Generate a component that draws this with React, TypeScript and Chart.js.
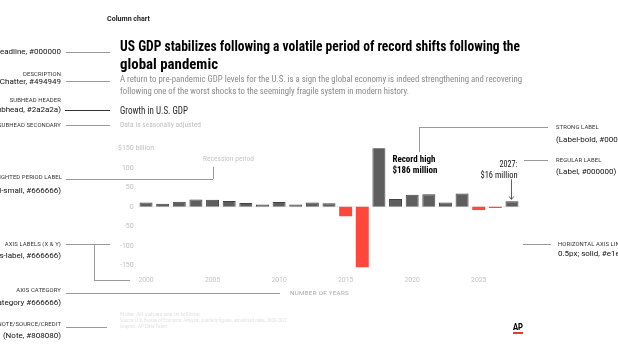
import React, { useEffect, useLayoutEffect, useRef } from "react";
import { Chart, registerables } from "chart.js";

Chart.register(...registerables);

// ---------- data ----------
const xTickLabels = [
  "2000", "", "", "", "2005", "", "", "", "2010", "", "", "",
  "2015", "", "", "", "2020", "", "", "", "2025", "", "",
];
const growth = [11, 8, 13, 19, 18, 15, 10, 6, 12, 6, 11, 9, -24, -155, 165, 20, 31, 32, 11, 34, -8, -3, 14];
const yTicks = [150, 100, 50, 0, -50, -100, -150];
const yMin = -160;
const yMax = 150;
const yTopPrefix = "$";
const yTopSuffix = " billion";
const recordLabel = ["Record high", "$186 million"];
const lastLabel = ["2027:", "$16 million"];
const xAxisTitle = "NUMBER OF YEARS";

const headline = [
  "US GDP stabilizes following a volatile period of record shifts following the",
  "global pandemic",
];
const description = [
  "A return to pre-pandemic GDP levels for the U.S. is a sign the global economy is indeed strengthening and recovering",
  "following one of the worst shocks to the seemingly fragile system in modern history.",
];
const subhead = "Growth in U.S. GDP";
const subheadSecondary = "Data is seasonally adjusted";
const noteLines = [
  "Note: All values are in billions",
  "Source: U.S. Bureau of Economic Analysis, quarterly figures, annualized rates, 2000-2027",
  "Graphic: AP Data Team",
];

const GRAY = "#5e5e5e";
const GRAY_BORDER = "#424242";
const RED = "#ff473b";

const COND = '"Roboto Condensed","Liberation Sans Narrow","DejaVu Sans Condensed","Open Sans",Roboto,sans-serif';
const SANS = 'Roboto,"Open Sans","Liberation Sans",sans-serif';
const W = 618;

type TP = {
  x: number; y: number; size: number; color?: string; weight?: number;
  right?: boolean; w?: number; ls?: number; family?: string; children: React.ReactNode;
};

function T({ x, y, size, color = "#000", weight = 400, right = false, w, ls = 0, family = SANS, children }: TP) {
  const ref = useRef<HTMLDivElement>(null);
  useLayoutEffect(() => {
    const el = ref.current;
    if (!el || !w) return;
    const fit = () => {
      el.style.transform = "translateY(-50%)";
      const nat = el.getBoundingClientRect().width;
      if (nat > 0) el.style.transform = `translateY(-50%) scaleX(${w / nat})`;
    };
    fit();
    (document as any).fonts?.ready?.then(fit);
  }, [w]);
  const style: React.CSSProperties = {
    position: "absolute",
    top: y,
    whiteSpace: "nowrap",
    fontSize: size,
    lineHeight: `${Math.round(size * 1.25)}px`,
    color,
    fontWeight: weight,
    letterSpacing: ls,
    fontFamily: family,
    transform: "translateY(-50%)",
    transformOrigin: right ? "right center" : "left center",
  };
  if (right) style.right = W - x; else style.left = x;
  return <div ref={ref} style={style}>{children}</div>;
}

function L({ x1, y1, x2, y2, color = "#9a9a9a" }: { x1: number; y1: number; x2: number; y2: number; color?: string }) {
  const horiz = y1 === y2;
  const style: React.CSSProperties = horiz
    ? { position: "absolute", left: Math.min(x1, x2), top: y1 - 0.5, width: Math.abs(x2 - x1), height: 1, background: color }
    : { position: "absolute", left: x1 - 0.5, top: Math.min(y1, y2), width: 1, height: Math.abs(y2 - y1), background: color };
  return <div style={style} />;
}

const labelsPlugin = {
  id: "customLabels",
  beforeDatasetsDraw(chart: any) {
    const { ctx, chartArea, scales } = chart;
    const y0 = scales.y.getPixelForValue(0);
    ctx.save();
    ctx.strokeStyle = "#e1e1e1";
    ctx.lineWidth = 0.5;
    ctx.beginPath();
    ctx.moveTo(chartArea.left, y0);
    ctx.lineTo(chartArea.right, y0);
    ctx.stroke();
    ctx.restore();
  },
  afterDraw(chart: any) {
    const { ctx, chartArea, scales } = chart;
    const xs = scales.x;
    const ys = scales.y;
    ctx.save();
    // y tick labels
    ctx.fillStyle = "#bdbdbd";
    ctx.font = `7px ${SANS}`;
    ctx.textBaseline = "middle";
    const lx = chartArea.left - 4;
    yTicks.forEach((v, i) => {
      const py = ys.getPixelForValue(v);
      const txt = i === 0 ? yTopPrefix + String(v) : String(v);
      ctx.textAlign = "right";
      ctx.fillText(txt, lx, py);
      if (i === 0) {
        ctx.textAlign = "left";
        ctx.fillText(yTopSuffix, lx, py);
      }
    });
    // x tick labels
    ctx.textAlign = "center";
    ctx.fillStyle = "#c4c4c4";
    ctx.font = `6.8px ${SANS}`;
    xTickLabels.forEach((lab, i) => {
      if (!lab) return;
      ctx.fillText(lab, xs.getPixelForValue(i), chartArea.bottom + 11);
    });
    // record label
    const maxI = growth.indexOf(Math.max(...growth));
    const rx = xs.getPixelForValue(maxI) + 13.5;
    const ry = ys.getPixelForValue(growth[maxI]);
    ctx.fillStyle = "#000";
    ctx.textAlign = "left";
    ctx.font = `bold 9.5px ${COND}`;
    ctx.fillText(recordLabel[0], rx, ry + 17, 43);
    ctx.fillText(recordLabel[1], rx, ry + 28, 45);
    // last label + arrow
    const li = growth.length - 1;
    const ax = xs.getPixelForValue(li);
    const ay = ys.getPixelForValue(growth[li]);
    ctx.font = `9px ${COND}`;
    ctx.textAlign = "right";
    ctx.fillStyle = "#111";
    ctx.fillText(lastLabel[0], ax + 5.5, ay - 37, 18);
    ctx.fillText(lastLabel[1], ax + 5.5, ay - 26, 37);
    ctx.strokeStyle = "#333";
    ctx.lineWidth = 0.8;
    ctx.beginPath();
    ctx.moveTo(ax - 0.5, ay - 22);
    ctx.lineTo(ax - 0.5, ay - 2);
    ctx.moveTo(ax - 3, ay - 5);
    ctx.lineTo(ax - 0.5, ay - 2);
    ctx.lineTo(ax + 2, ay - 5);
    ctx.stroke();
    ctx.restore();
  },
};

function BarChart() {
  const ref = useRef<HTMLCanvasElement>(null);
  useEffect(() => {
    if (!ref.current) return;
    const chart = new Chart(ref.current, {
      type: "bar",
      data: {
        labels: xTickLabels,
        datasets: [
          {
            data: growth,
            backgroundColor: growth.map((v) => (v < 0 ? RED : GRAY)),
            borderColor: growth.map((v) => (v < 0 ? RED : GRAY_BORDER)),
            borderWidth: growth.map((v) => (v < 0 ? 0 : 1)),
            barPercentage: 0.78,
            categoryPercentage: 1,
          },
        ],
      },
      options: {
        responsive: false,
        animation: false,
        events: [],
        layout: { padding: { left: 137.7, right: 97.7, top: 148.3, bottom: 83.8 } },
        scales: {
          x: { display: false },
          y: { display: false, min: yMin, max: yMax },
        },
        plugins: { legend: { display: false }, tooltip: { enabled: false } },
      },
      plugins: [labelsPlugin],
    });
    return () => chart.destroy();
  }, []);
  return (
    <canvas
      ref={ref}
      width={618}
      height={353}
      style={{ position: "absolute", left: 0, top: 0, width: 618, height: 353 }}
    />
  );
}

export default function App() {
  const cap = { size: 5.9, color: "#333", ls: 0.1 };
  const big = { size: 8, color: "#111" };
  return (
    <div style={{ position: "fixed", left: 0, top: 0, width: 618, height: 353, overflow: "hidden", background: "#fff" }}>
      <BarChart />
      <T x={107} y={19} size={8} weight={700} color="#222" w={43}>Column chart</T>

      <T x={120} y={47} size={14.5} weight={700} family={COND} w={400}>{headline[0]}</T>
      <T x={120} y={65} size={14.5} weight={700} family={COND} w={98}>{headline[1]}</T>
      <T x={120} y={79} size={9} color="#8a8a8a" family={COND} w={402}>{description[0]}</T>
      <T x={120} y={91} size={9} color="#8a8a8a" family={COND} w={289}>{description[1]}</T>
      <T x={120} y={110} size={10} color="#2a2a2a" family={COND} w={68}>{subhead}</T>
      <T x={120} y={125} size={8} color="#c0c0c0" family={COND} w={81}>{subheadSecondary}</T>

      <T x={203} y={159} size={7} color="#c6c6c6" family={COND} w={51}>Recession period</T>
      <T x={290} y={293} size={6} color="#a8a8a8" ls={0.3} w={59}>{xAxisTitle}</T>
      {noteLines.map((t, i) => (
        <T key={i} x={120} y={313.5 + i * 6} size={5.5} color="#e2e2e2" w={[80, 167, 47][i]}>{t}</T>
      ))}

      {/* left annotations */}
      <T x={61} y={52} right {...big}>(Headline, #000000</T>
      <T x={61} y={74} right {...cap}>DESCRIPTION</T>
      <T x={61} y={82} right {...big}>(Chatter, #494949</T>
      <T x={61} y={100} right {...cap}>SUBHEAD HEADER</T>
      <T x={61} y={110} right {...big}>(Subhead, #2a2a2a)</T>
      <T x={61} y={125} right {...cap}>SUBHEAD SECONDARY</T>
      <T x={62} y={177} right {...cap}>HIGHLIGHTED PERIOD LABEL</T>
      <T x={61} y={191} right {...big}>(Label-small, #666666)</T>
      <T x={61} y={244} right {...cap}>AXIS LABELS (X &amp; Y)</T>
      <T x={61} y={256} right {...big}>(Axis-label, #666666)</T>
      <T x={61} y={290} right {...cap}>AXIS CATEGORY</T>
      <T x={61} y={303} right {...big}>(Axis-category #666666)</T>
      <T x={61} y={324} right {...cap}>NOTE/SOURCE/CREDIT</T>
      <T x={61} y={336} right {...big}>(Note, #808080)</T>

      <L x1={66} y1={52} x2={110} y2={52} />
      <L x1={66} y1={81} x2={110} y2={81} />
      <L x1={65} y1={110} x2={110} y2={110} color="#333" />
      <L x1={66} y1={125} x2={110} y2={125} />
      <L x1={66} y1={179} x2={213} y2={179} />
      <L x1={213} y1={167} x2={213} y2={179} />
      <L x1={66} y1={244} x2={110} y2={244} />
      <L x1={94} y1={244} x2={94} y2={280} />
      <L x1={94} y1={280} x2={130} y2={280} />
      <L x1={66} y1={293} x2={280} y2={293} />
      <L x1={66} y1={327} x2={107} y2={327} />

      {/* right annotations */}
      <L x1={419} y1={127} x2={548} y2={127} />
      <L x1={419} y1={127} x2={419} y2={152} />
      <L x1={524} y1={160} x2={548} y2={160} />
      <L x1={523} y1={244} x2={551} y2={244} />
      <T x={556} y={127} {...cap}>STRONG LABEL</T>
      <T x={556} y={140} {...big}>(Label-bold, #000000)</T>
      <T x={556} y={160} {...cap}>REGULAR LABEL</T>
      <T x={556} y={172} {...big}>(Label, #000000)</T>
      <T x={558} y={244} {...cap}>HORIZONTAL AXIS LINE</T>
      <T x={558} y={254} {...big}>0.5px; solid, #e1e1e1</T>

      {/* AP logo */}
      <T x={513} y={327} size={9} weight={800} color="#000" w={10}>AP</T>
      <div style={{ position: "absolute", left: 513, top: 332, width: 10, height: 2, background: "#e8392e" }} />
    </div>
  );
}
